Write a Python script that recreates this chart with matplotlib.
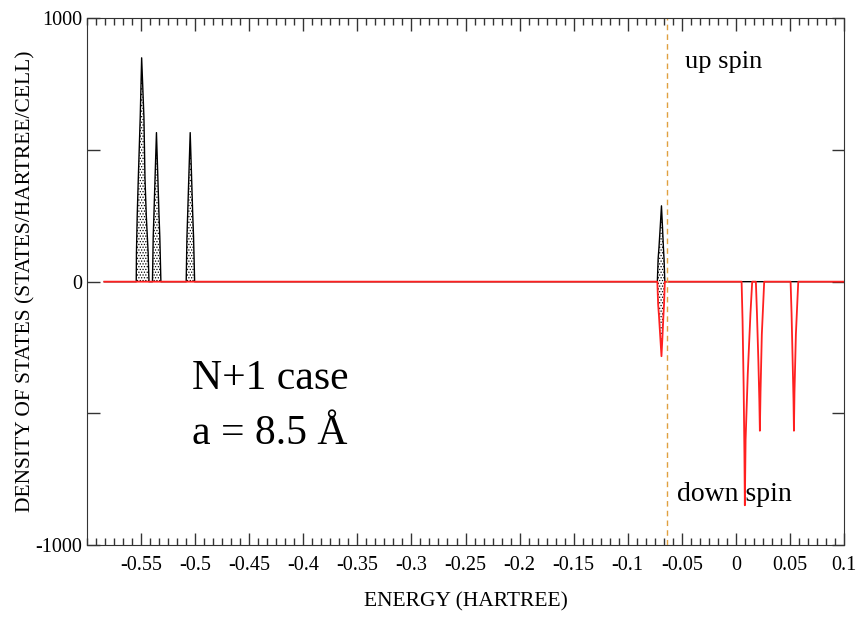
import numpy as np
import matplotlib.pyplot as plt
from matplotlib.ticker import MultipleLocator, FixedLocator

plt.rcParams['font.family'] = ['Liberation Serif', 'DejaVu Serif']
plt.rcParams['hatch.linewidth'] = 0.6

# up spin DOS (states/hartree/cell)
up_energy = [-0.584,
             -0.5545, -0.5543, -0.5536, -0.5526, -0.5508, -0.5495, -0.5474, -0.5464, -0.5452, -0.5435, -0.5427,
             -0.5395, -0.5388, -0.5381, -0.5369, -0.5358, -0.5347, -0.5335, -0.5327, -0.5317,
             -0.5083, -0.5076, -0.5069, -0.5057, -0.5046, -0.5035, -0.5023, -0.5015, -0.5005,
             -0.0726, -0.0719, -0.0711, -0.0699, -0.0688, -0.0679, -0.0670, -0.0664, -0.0657,
             0.1]
up_dos = [0,
          0, 110, 250, 390, 626, 850, 626, 390, 250, 110, 0,
          0, 170, 260, 420, 566, 420, 260, 170, 0,
          0, 170, 260, 420, 566, 420, 260, 170, 0,
          0, 85, 130, 210, 288, 210, 130, 85, 0,
          0]

# down spin DOS (plotted negative)
down_energy = [-0.584,
               -0.0726, -0.0719, -0.0711, -0.0699, -0.0688, -0.0679, -0.0670, -0.0664, -0.0657,
               0.0053, 0.0062, 0.0072, 0.0079, 0.0083, 0.0090, 0.0110, 0.0135, 0.0151,
               0.0185, 0.0195, 0.0208, 0.0217, 0.0222, 0.0228, 0.0240, 0.0262,
               0.0506, 0.0515, 0.0525, 0.0533, 0.0537, 0.0542, 0.0555, 0.0577,
               0.1]
down_dos = [0,
            0, -85, -130, -210, -283, -210, -130, -85, 0,
            0, -150, -400, -650, -849, -600, -350, -120, 0,
            0, -120, -300, -450, -566, -420, -200, 0,
            0, -120, -300, -450, -566, -420, -200, 0,
            0]

fermi = -0.0633

x_ticks = [-0.55, -0.5, -0.45, -0.4, -0.35, -0.3, -0.25, -0.2, -0.15, -0.1, -0.05, 0, 0.05, 0.1]
x_labels = ['-0.55', '-0.5', '-0.45', '-0.4', '-0.35', '-0.3', '-0.25',
            '-0.2', '-0.15', '-0.1', '-0.05', '0', '0.05', '0.1']
y_ticks = [-1000, -500, 0, 500, 1000]
y_labels = ['-1000', '', '0', '', '1000']

up_e = np.array(up_energy)
up_d = np.array(up_dos)
dn_e = np.array(down_energy)
dn_d = np.array(down_dos)

fig = plt.figure(figsize=(8.6, 6.19), dpi=100)
ax = fig.add_axes([0.1012, 0.1195, 0.8802, 0.8509])

# occupied states get the dotted fill
ax.fill_between(up_e, up_d, 0, where=up_e <= fermi, facecolor='white',
                edgecolor='black', hatch='......', linewidth=0)
ax.fill_between(dn_e, dn_d, 0, where=dn_e <= fermi, facecolor='white',
                edgecolor='black', hatch='......', linewidth=0)
ax.plot(up_e, up_d, color='black', lw=1.0)
ax.plot(dn_e, dn_d, color='#ff2020', lw=1.3)
ax.axvline(fermi, color='#e0a040', lw=1.0, ls=(0, (4, 3)))

ax.set_xlim(-0.6, 0.1)
ax.set_ylim(-1000, 1000)

ax.xaxis.set_major_locator(FixedLocator(x_ticks))
ax.set_xticklabels(x_labels)
ax.xaxis.set_minor_locator(MultipleLocator(0.05 / 6))
ax.set_yticks(y_ticks)
ax.set_yticklabels(y_labels)

ax.tick_params(which='both', direction='in', top=True, right=True,
               labelsize=14.5, color='#333333')
ax.tick_params(which='major', length=9, width=1)
ax.tick_params(which='minor', length=5, width=1)
ax.tick_params(axis='x', pad=8)
for s in ax.spines.values():
    s.set_color('#333333')

ax.set_xlabel('ENERGY (HARTREE)', fontsize=15.5, labelpad=12)
ax.set_ylabel('DENSITY OF STATES (STATES/HARTREE/CELL)', fontsize=15.5, labelpad=0)

ax.text(-0.047, 834, 'up spin', fontsize=19, va='center')
ax.text(-0.0546, -807, 'down spin', fontsize=20, va='center')
ax.text(-0.503, -367, 'N+1 case', fontsize=30, va='center')
ax.text(-0.503, -576, 'a = 8.5 Å', fontsize=30, va='center')

fig.savefig('out.png', dpi=100)
